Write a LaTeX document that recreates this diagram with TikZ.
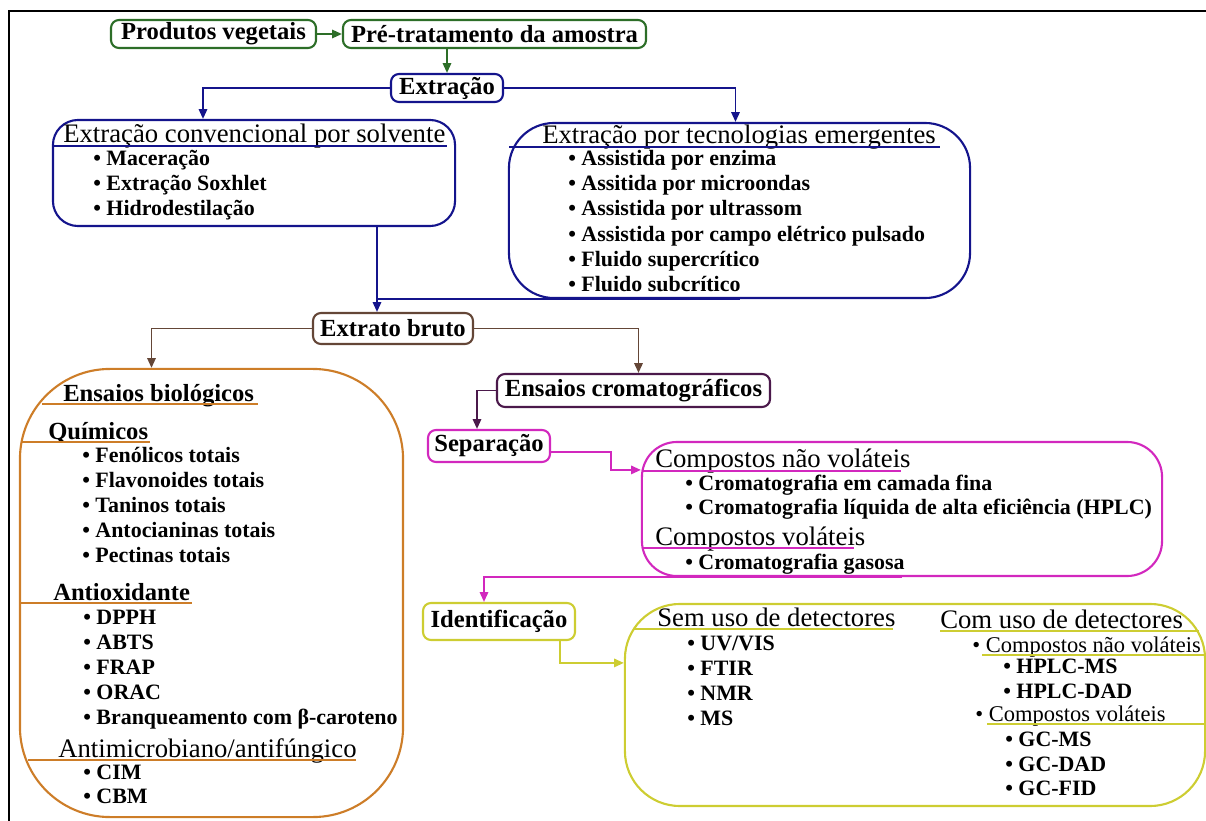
\documentclass[tikz,border=0pt]{standalone}
\usepackage{fontspec}
\setmainfont{Liberation Serif}
\usepackage{tikz}
\usetikzlibrary{arrows.meta,calc}
\definecolor{cgreen}{RGB}{45,110,40}
\definecolor{cblue}{RGB}{20,20,140}
\definecolor{cbrown}{RGB}{100,70,55}
\definecolor{corange}{RGB}{205,125,40}
\definecolor{cpurple}{RGB}{75,25,75}
\definecolor{cmag}{RGB}{210,40,190}
\definecolor{cyel}{RGB}{205,205,50}

\tikzset{
  lbl/.style={draw=#1, line width=1.5pt, fill=white, rounded corners=0.2cm, inner sep=0pt,
    font=\bfseries\fontsize{17.5}{20}\selectfont},
  grp/.style={draw=#1, line width=1.5pt, inner sep=0pt},
  hd/.style={anchor=base west, inner sep=0pt, font=\fontsize{19}{22}\selectfont},
  hdb/.style={anchor=base west, inner sep=0pt, font=\bfseries\fontsize{17.5}{20}\selectfont},
  itm/.style={anchor=base west, inner sep=0pt, font=\bfseries\fontsize{15.6}{18}\selectfont},
  sub/.style={anchor=base west, inner sep=0pt, font=\fontsize{16}{18}\selectfont},
  con/.style={draw=#1, line width=1.3pt, -{Triangle[length=7pt,width=6pt]}},
  ul/.style={draw=#1, line width=2pt},
}

\begin{document}
\begin{tikzpicture}[x=0.025cm,y=-0.025cm]
  \useasboundingbox (0,0) rectangle (1206,821);
  \draw[line width=1.5pt] (1206,11) -- (9,11) -- (9,821);

  % boxes
  \node[lbl=cgreen, minimum width=5.125cm, minimum height=0.7cm] (prod) at (213.5,34) {Produtos vegetais};
  \node[lbl=cgreen, minimum width=7.575cm, minimum height=0.7cm] (pre) at (494.5,34) {Pré-tratamento da amostra};
  \node[lbl=cblue, minimum width=2.8cm, minimum height=0.7cm] (ext) at (447,88) {Extração};
  \node[grp=cblue, rounded corners=0.625cm, minimum width=10.05cm, minimum height=2.65cm] (conv) at (254,173) {};
  \node[grp=cblue, rounded corners=1.125cm, minimum width=11.525cm, minimum height=4.375cm] (emer) at (739.5,210.5) {};
  \node[lbl=cbrown, minimum width=4cm, minimum height=0.775cm] (bruto) at (393,328.5) {Extrato bruto};
  \node[grp=corange, rounded corners=2.25cm, minimum width=9.575cm, minimum height=11.2cm] (bio) at (211.5,593) {};
  \node[lbl=cpurple, minimum width=6.825cm, minimum height=0.825cm] (crom) at (633.5,390.5) {Ensaios cromatográficos};
  \node[lbl=cmag, minimum width=3.05cm, minimum height=0.8cm] (sep) at (489,446) {Separação};
  \node[grp=cmag, rounded corners=0.875cm, minimum width=13cm, minimum height=3.35cm] (comp) at (902,509) {};
  \node[lbl=cyel, minimum width=3.8cm, minimum height=0.925cm] (ident) at (499,621.5) {Identificação};
  \node[grp=cyel, rounded corners=1.375cm, minimum width=14.5cm, minimum height=5.05cm] (yel) at (915,705) {};

  % connectors
  \draw[con=cgreen] (prod) -- (pre);
  \draw[con=cgreen] (pre.south -| ext.north) -- (ext.north);
  \draw[con=cblue] (ext.west) -| ($(conv.north)+(-51,0)$);
  \draw[con=cblue] (ext.east) -| ($(emer.north)+(-4,0)$);
  \draw[con=cblue] ($(conv.south)+(123,0)$) coordinate (cv) -- (cv |- bruto.north);
  \draw[cblue, line width=1.3pt] (emer.south) -- (emer.south -| cv);
  \draw[con=cbrown] (bruto.west) -| ($(bio.north)+(-60,0)$);
  \draw[con=cbrown] (bruto.east) -| ($(crom.north)+(5,0)$);
  \draw[con=cpurple] (crom.west) -| ($(sep.north)+(-12,0)$);
  \draw[con=cmag] ($(sep.east)+(0,6)$) -- ++(60,0) |- ($(comp.north west)+(0,29)$);
  \draw[con=cmag] (comp.south) -| ($(ident.north)+(-15,0)$);
  \draw[con=cyel] ($(ident.south)+(61,0)$) |- ($(yel.north west)+(0,60)$);

  % Extracao convencional
  \node[hd] (convh) at (63,143) {Extração convencional por solvente};
  \draw[ul=cblue] (53,146) -- (447,146);
  \foreach \y/\t in {166/Maceração,191/Extração Soxhlet,216/Hidrodestilação}
    \node[itm] (cv\y) at (93,\y) {\textbullet\ \t};

  % Extracao emergentes
  \node[hd] (emerh) at (542,144) {Extração por tecnologias emergentes};
  \draw[ul=cblue] (509,147) -- (940,147);
  \foreach \y/\t in {166/Assistida por enzima,191/Assitida por microondas,216/Assistida por ultrassom,
      241/Assistida por campo elétrico pulsado,266/Fluido supercrítico,291/Fluido subcrítico}
    \node[itm] (em\y) at (568,\y) {\textbullet\ \t};

  % Ensaios biologicos
  \node[hdb] (bioh) at (63,401) {Ensaios biológicos};
  \draw[ul=corange] (42,404) -- (258,404);
  \node[hdb] (quih) at (48,439) {Químicos};
  \draw[ul=corange] (22,442) -- (150,442);
  \foreach \y/\t in {462/Fenólicos totais,487/Flavonoides totais,512/Taninos totais,
      537/Antocianinas totais,562/Pectinas totais}
    \node[itm] (qu\y) at (82,\y) {\textbullet\ \t};
  \node[hdb] (antih) at (53,600) {Antioxidante};
  \draw[ul=corange] (20,603) -- (192,603);
  \foreach \y/\t in {624/DPPH,649/ABTS,674/FRAP,699/ORAC,724/Branqueamento com β-caroteno}
    \node[itm] (an\y) at (83,\y) {\textbullet\ \t};
  \node[hd] (mich) at (58,757) {Antimicrobiano/antifúngico};
  \draw[ul=corange] (28,760) -- (356,760);
  \foreach \y/\t in {779/CIM,803/CBM}
    \node[itm] (mi\y) at (83,\y) {\textbullet\ \t};

  % Separacao
  \node[hd] (nvh) at (655,467) {Compostos não voláteis};
  \draw[ul=cmag] (642,471) -- (901,471);
  \foreach \y/\t in {490/Cromatografia em camada fina,514/Cromatografia líquida de alta eficiência (HPLC)}
    \node[itm] (nv\y) at (685,\y) {\textbullet\ \t};
  \node[hd] (voh) at (655,545) {Compostos voláteis};
  \draw[ul=cmag] (642,548) -- (854,548);
  \node[itm] (vo569) at (685,569) {\textbullet\ Cromatografia gasosa};

  % Identificacao
  \node[hd] (semh) at (657,626) {Sem uso de detectores};
  \draw[ul=cyel] (633,629) -- (893,629);
  \foreach \y/\t in {650/{UV/VIS},675/FTIR,700/NMR,725/MS}
    \node[itm] (se\y) at (687,\y) {\textbullet\ \t};
  \node[hd] (comh) at (940,628) {Com uso de detectores};
  \draw[ul=cyel] (940,631) -- (1199,631);
  \node[sub] (cnv) at (972,652) {\textbullet\ Compostos não voláteis};
  \draw[ul=cyel] (982,655) -- (1205,655);
  \foreach \y/\t in {673/HPLC-MS,698/HPLC-DAD}
    \node[itm] (hp\y) at (1003,\y) {\textbullet\ \t};
  \node[sub] (cvo) at (975,721) {\textbullet\ Compostos voláteis};
  \draw[ul=cyel] (987,724) -- (1205,724);
  \foreach \y/\t in {746/GC-MS,771/GC-DAD,795/GC-FID}
    \node[itm] (gc\y) at (1005,\y) {\textbullet\ \t};
\end{tikzpicture}
\end{document}
